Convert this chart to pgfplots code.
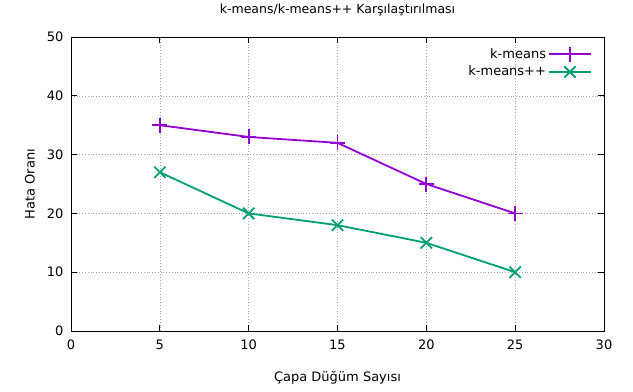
\documentclass[border=0pt]{standalone}
\usepackage{pgfplots}
\pgfplotsset{compat=1.18}
\usepackage{fontspec}
\setmainfont{DejaVu Sans}
\definecolor{gpurple}{HTML}{9400D3}
\definecolor{ggreen}{HTML}{009E73}
\begin{document}
\fontsize{13bp}{15bp}\selectfont
\begin{tikzpicture}
\useasboundingbox (-71bp,-61bp) rectangle (562bp,331bp);
\begin{axis}[
  at={(0,0)}, anchor=south west,
  scale only axis, width=533bp, height=294bp,
  xmin=0, xmax=30, ymin=0, ymax=50,
  xtick={0,5,...,30}, ytick={0,10,...,50},
  /pgf/number format/assume math mode=true,
  tick align=inside, major tick length=6bp,
  tick style={black, line width=0.8bp},
  axis line style={black, line width=0.9bp},
  grid=major,
  grid style={gray!70, line width=0.6bp, dash pattern=on 0.8bp off 2bp},
  ticklabel style={font=\fontsize{13bp}{15bp}\selectfont},
  xticklabel style={yshift=-4bp},
  yticklabel style={xshift=-3bp},
  title={k-means/k-means++ Karşılaştırılması},
  every axis title/.style={at={(axis description cs:0.5,1.0918)}, anchor=center, font=\fontsize{12.5bp}{15bp}\selectfont},
  xlabel={Çapa Düğüm Sayısı},
  xlabel style={at={(axis description cs:0.5,-0.16)}, anchor=center, font=\fontsize{13bp}{15bp}\selectfont},
  ylabel={Hata Oranı},
  ylabel style={at={(axis description cs:-0.077,0.5)}, anchor=center, font=\fontsize{13bp}{15bp}\selectfont},
  legend style={draw=none, fill=none, at={(1,1)}, anchor=north east, xshift=-9bp, yshift=-7bp,
    font=\fontsize{13bp}{15bp}\selectfont, row sep=2bp},
  legend cell align=right,
  legend plot pos=right,
  legend image code/.code={\draw[mark repeat=2,mark phase=2] plot coordinates {(0bp,0bp) (21bp,0bp) (42bp,0bp)};},
]
\addplot[gpurple, line width=1.8bp, mark=+, mark size=7.5bp, mark options={line width=1.8bp}]
  coordinates {(5,35) (10,33) (15,32) (20,25) (25,20)};
\addlegendentry{k-means}
\addplot[ggreen, line width=1.8bp, mark=x, mark size=8bp, mark options={line width=1.8bp}]
  coordinates {(5,27) (10,20) (15,18) (20,15) (25,10)};
\addlegendentry{k-means++}
\end{axis}
\end{tikzpicture}
\end{document}
